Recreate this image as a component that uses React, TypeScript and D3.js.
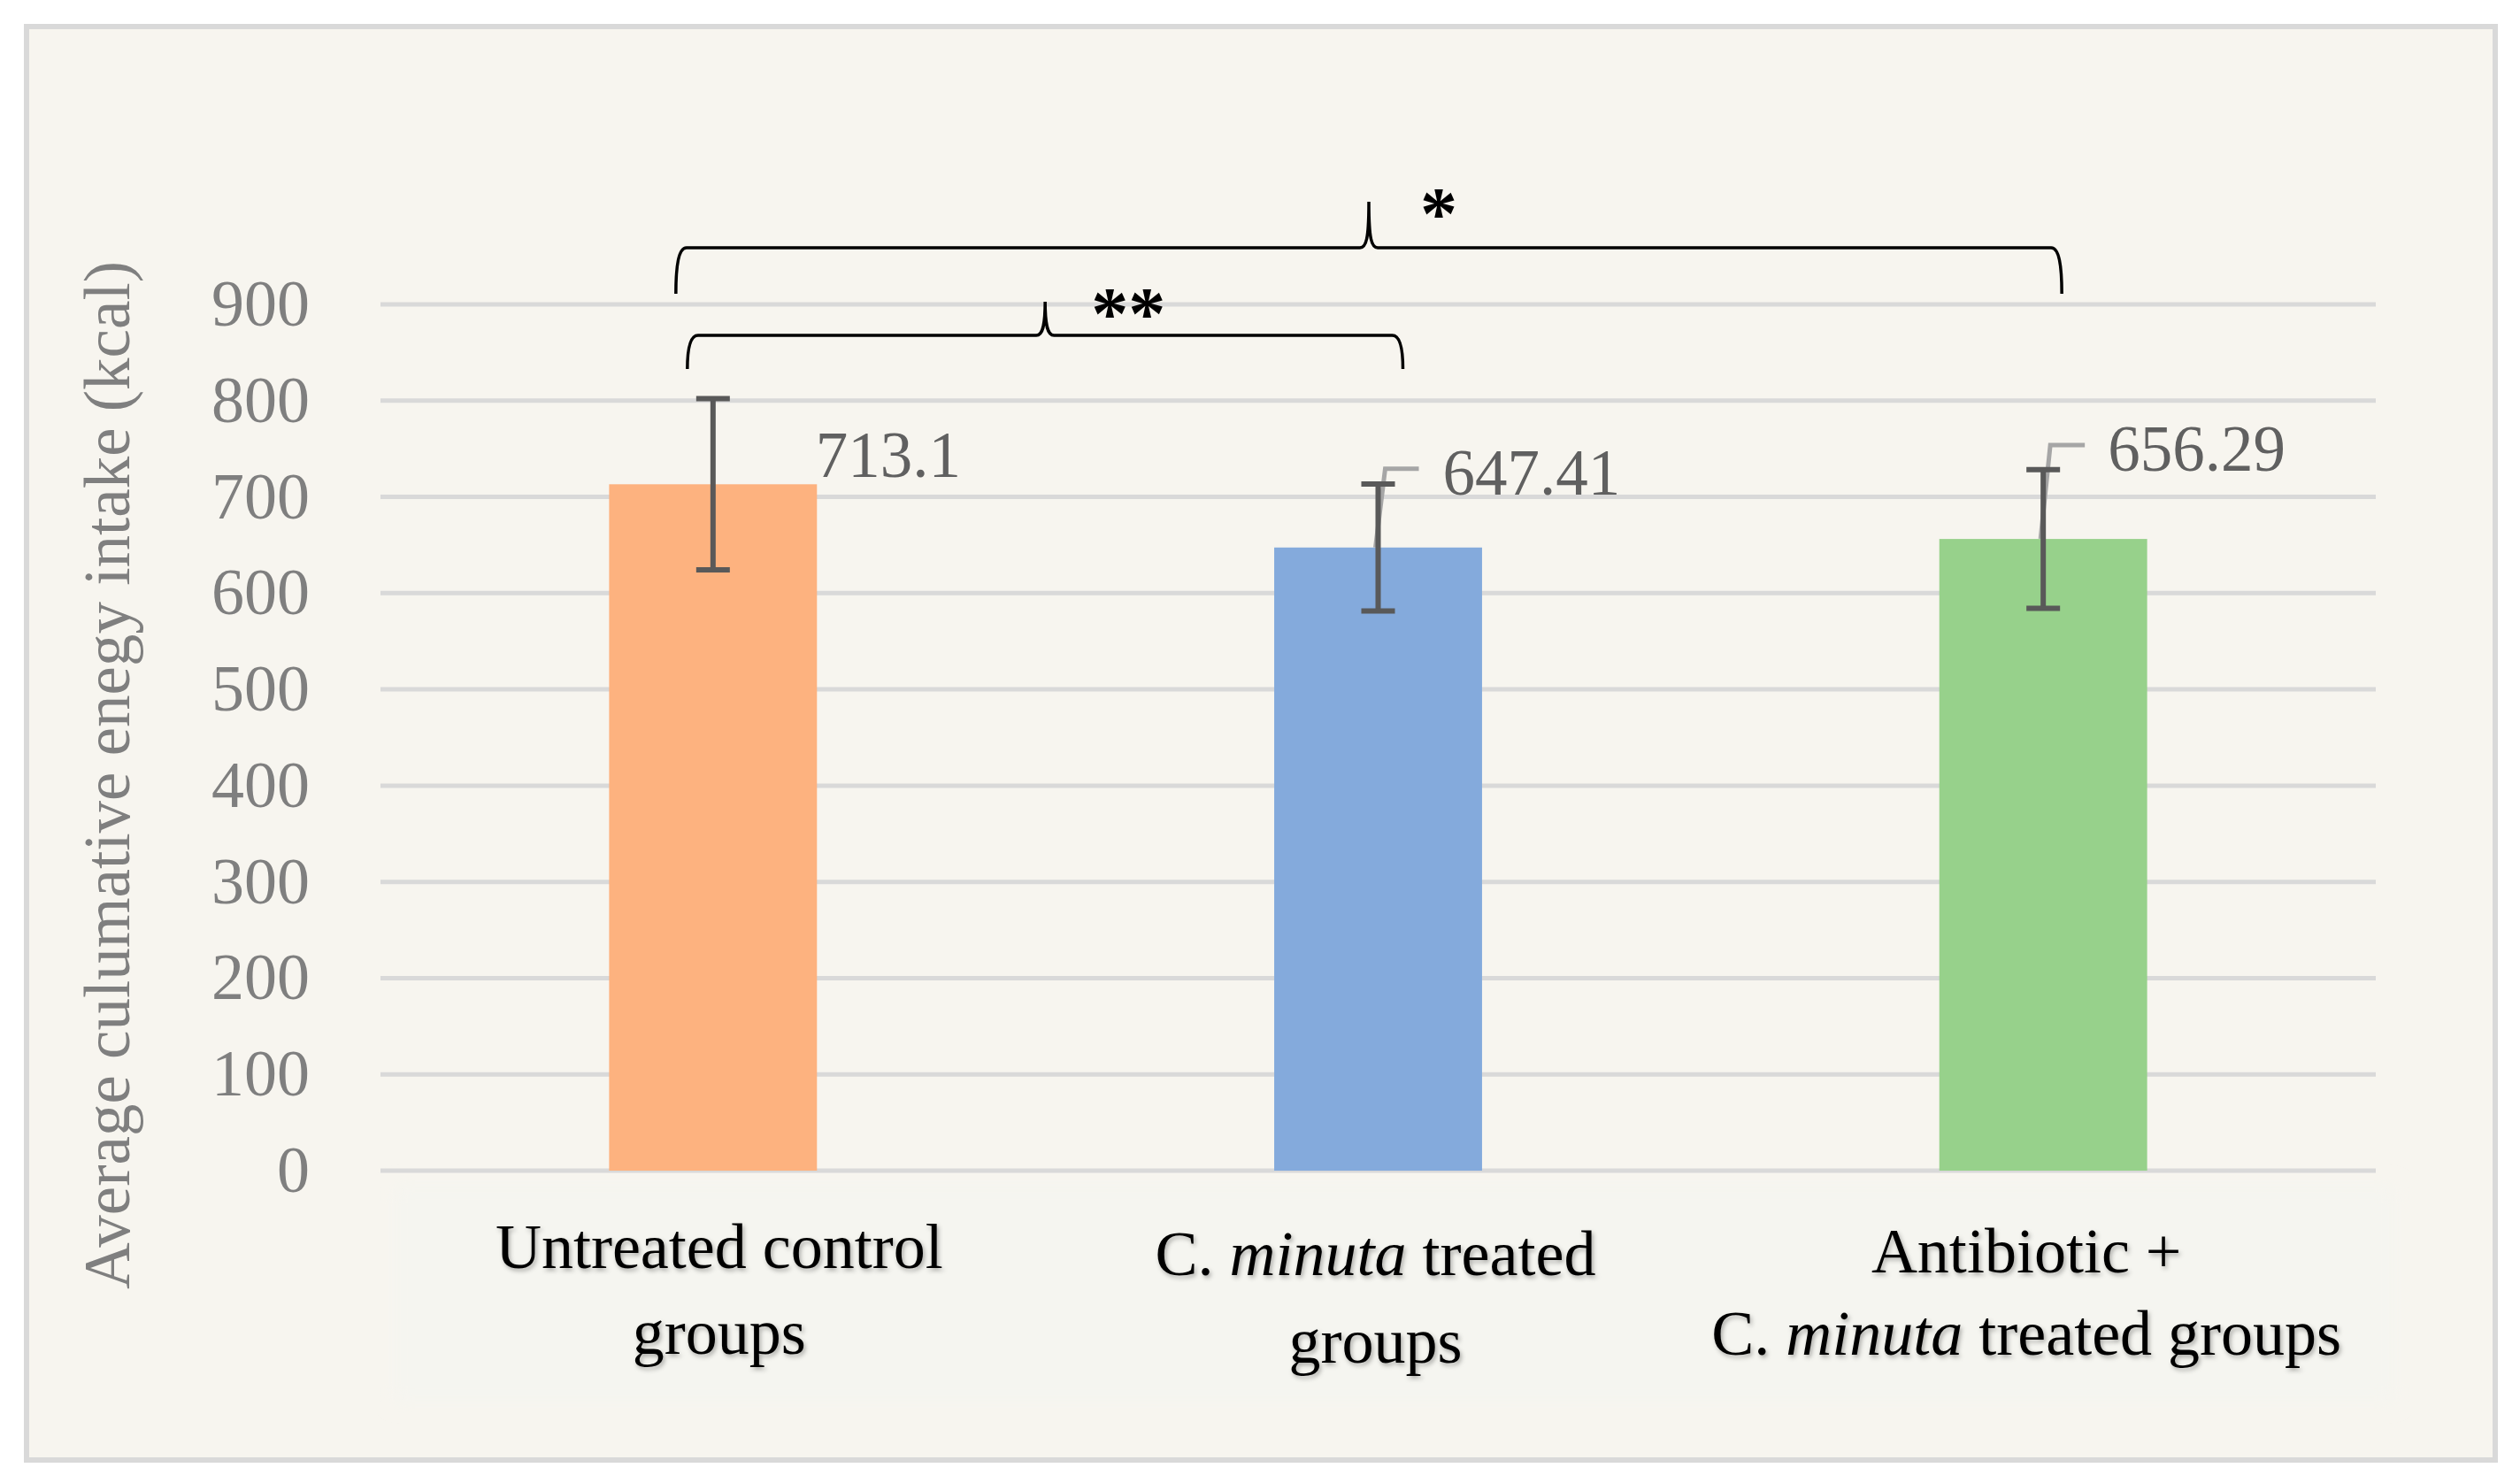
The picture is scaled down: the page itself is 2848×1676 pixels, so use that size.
import React from "react";
import * as d3 from "d3";

// Group names (line 1 / line 2, with italic species name marked separately)
const categories = ["Untreated control groups", "C. minuta treated groups", "Antibiotic + C. minuta treated groups"];
// Mean cumulative energy intake (kcal)
const means = [713.1, 647.41, 656.29];
// Error bar half-widths (kcal)
const errors = [89, 66, 72];
const meanLabels = ["713.1", "647.41", "656.29"];
const yTicks = [0, 100, 200, 300, 400, 500, 600, 700, 800, 900];
const barColors = ["#fdb27f", "#84aadc", "#97d18b"];
// Pairwise comparisons shown as braces above the bars
const comparisons = [
  { from: 0, to: 1, label: "**" },
  { from: 0, to: 2, label: "*" },
];

const W = 2848;
const H = 1676;
const FONT = "'Liberation Serif', 'Times New Roman', serif";

export default function App() {
  const x = d3.scaleBand<number>().domain([0, 1, 2]).range([430, 2685]).padding(0);
  const y = d3.scaleLinear().domain([0, 900]).range([1323, 344]);
  const barW = x.bandwidth() * 0.3125;
  const cx = (i: number) => (x(i) as number) + x.bandwidth() / 2;

  // label placement (left edge offset from bar centre, leader geometry)
  const labelLayout = [
    { dx: 116, baselineDy: -8, leader: null as null | { topDy: number; dxTop: number; len: number } },
    { dx: 73, baselineDy: -60, leader: { topDy: -89, dxTop: 8, len: 38 } },
    { dx: 73, baselineDy: -77, leader: { topDy: -106, dxTop: 8, len: 39 } },
  ];

  // brace geometry in pixels: left/right offsets from bar centres and vertical levels
  const braceLayout = [
    { lOff: -29, rOff: 28, yb: 417, yh: 379, yt: 341, starDx: 52 },
    { lOff: -42, rOff: 21, yb: 332, yh: 280, yt: 228, starDx: 58 },
  ];

  const bracePath = (L: number, R: number, yb: number, yh: number, yt: number) => {
    const P = (L + R) / 2;
    const p = d3.path();
    p.moveTo(L, yb);
    p.bezierCurveTo(L, yb - (yb - yh) * 0.6, L + 3, yh, L + 12, yh);
    p.lineTo(P - 10, yh);
    p.bezierCurveTo(P - 3, yh, P, yh - 10, P, yt);
    p.bezierCurveTo(P, yh - 10, P + 3, yh, P + 10, yh);
    p.lineTo(R - 12, yh);
    p.bezierCurveTo(R - 3, yh, R, yb - (yb - yh) * 0.6, R, yb);
    return p.toString();
  };

  const xLabels: React.ReactNode[][] = [
    [["Untreated control"], ["groups"]],
    [[<tspan key="a">C. </tspan>, <tspan key="b" fontStyle="italic">minuta</tspan>, <tspan key="c"> treated</tspan>], ["groups"]],
    [["Antibiotic +"], [<tspan key="a">C. </tspan>, <tspan key="b" fontStyle="italic">minuta</tspan>, <tspan key="c"> treated groups</tspan>]],
  ];
  const xLabelBase = [[1433, 1530], [1441, 1540], [1438, 1531]];
  const xLabelDx = [7, -3, -19];

  return (
    <svg width={W} height={H} style={{ position: "absolute", left: 0, top: 0, display: "block" }} fontFamily={FONT}>
      <defs>
        <filter id="txtShadow" x="-10%" y="-30%" width="120%" height="160%">
          <feDropShadow dx="2" dy="3" stdDeviation="2.5" floodColor="#000" floodOpacity="0.3" />
        </filter>
        <filter id="soft" x="-5%" y="-20%" width="110%" height="140%">
          <feGaussianBlur stdDeviation="10" />
        </filter>
      </defs>
      <rect x={0} y={0} width={W} height={H} fill="#ffffff" />
      <rect x={30} y={30} width={2790} height={1620} fill="#f7f5ef" stroke="#d9d9d9" strokeWidth={6} />
      {/* faint glow behind the category labels */}
      <rect x={445} y={1340} width={2262} height={245} fill="#f5f5f0" filter="url(#soft)" />

      {/* gridlines */}
      {yTicks.map((t) => (
        <line key={t} x1={430} x2={2685} y1={y(t)} y2={y(t)} stroke="#d9d9d9" strokeWidth={5} />
      ))}
      {/* y tick labels */}
      {yTicks.map((t) => (
        <text key={"l" + t} x={350} y={y(t) + 24} textAnchor="end" fontSize={74} fill="#7f7f7f">
          {t}
        </text>
      ))}
      {/* y axis title */}
      <text transform="translate(146,876) rotate(-90)" textAnchor="middle" fontSize={73} fill="#7f7f7f">
        Average culumative enegy intake (kcal)
      </text>

      {/* bars */}
      {means.map((v, i) => (
        <rect key={"b" + i} x={cx(i) - barW / 2} y={y(v)} width={barW} height={y(0) - y(v)} fill={barColors[i]} />
      ))}

      {/* leader lines */}
      {means.map((v, i) => {
        const lay = labelLayout[i];
        if (!lay.leader) return null;
        const x0 = cx(i) - 3;
        const yTop = y(v) + lay.leader.topDy;
        const xTop = cx(i) + lay.leader.dxTop;
        return (
          <polyline
            key={"ld" + i}
            points={`${x0},${y(v)} ${xTop},${yTop} ${xTop + lay.leader.len},${yTop}`}
            fill="none"
            stroke="#a6a6a6"
            strokeWidth={5}
          />
        );
      })}

      {/* error bars */}
      {means.map((v, i) => {
        const c = cx(i);
        const hi = y(v + errors[i]);
        const lo = y(v - errors[i]);
        return (
          <g key={"e" + i} stroke="#595959" strokeWidth={6}>
            <line x1={c} x2={c} y1={hi} y2={lo} />
            <line x1={c - 19} x2={c + 19} y1={hi} y2={hi} />
            <line x1={c - 19} x2={c + 19} y1={lo} y2={lo} />
          </g>
        );
      })}

      {/* value labels */}
      {means.map((v, i) => (
        <text key={"v" + i} x={cx(i) + labelLayout[i].dx} y={y(v) + labelLayout[i].baselineDy} fontSize={73} fill="#606060">
          {meanLabels[i]}
        </text>
      ))}

      {/* category labels */}
      {xLabels.map((lines, i) => (
        <g key={"c" + i} filter="url(#txtShadow)">
          {lines.map((ln, j) => (
            <text key={j} x={cx(i) + xLabelDx[i]} y={xLabelBase[i][j]} textAnchor="middle" fontSize={72} fill="#000">
              {ln}
            </text>
          ))}
        </g>
      ))}

      {/* significance braces */}
      {comparisons.map((c, k) => {
        const b = braceLayout[k];
        const L = cx(c.from) + b.lOff;
        const R = cx(c.to) + b.rOff;
        const P = (L + R) / 2;
        return (
          <g key={"br" + k}>
            <path d={bracePath(L, R, b.yb, b.yh, b.yt)} fill="none" stroke="#000" strokeWidth={3.5} />
            <text x={P + b.starDx} y={b.yt + 42} fontSize={84} fontWeight="bold" fill="#000">
              {c.label}
            </text>
          </g>
        );
      })}
    </svg>
  );
}
